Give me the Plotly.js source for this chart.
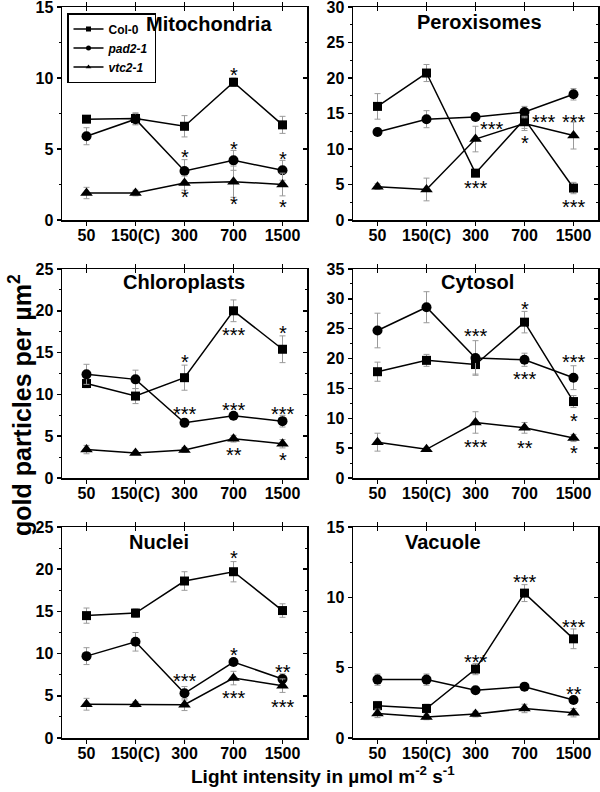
<!DOCTYPE html>
<html>
<head>
<meta charset="utf-8">
<script src="https://cdn.plot.ly/plotly-3.0.1.min.js"></script>
<style>html,body{margin:0;padding:0;background:#fff;}#chart{width:600px;height:792px;}</style>
</head>
<body>
<div id="chart"></div>
<script>
// ---------- DATA ----------
const categories = ['50', '150(C)', '300', '700', '1500'];
const panelNames = ['Mitochondria', 'Peroxisomes', 'Chloroplasts', 'Cytosol', 'Nuclei', 'Vacuole'];
const yMax = [15, 30, 25, 35, 25, 15];

const col0 = [
  [7.1, 7.15, 6.6, 9.7, 6.7],
  [16.0, 20.7, 6.6, 14.2, 4.5],
  [11.3, 9.8, 12.0, 20.0, 15.4],
  [17.8, 19.7, 19.0, 26.1, 12.8],
  [14.5, 14.8, 18.6, 19.7, 15.1],
  [2.3, 2.1, 4.9, 10.3, 7.05]
];
const col0Err = [
  [0.2, 0.4, 0.75, 0.3, 0.6],
  [1.8, 1.2, 0.5, 1.3, 0.8],
  [0.5, 0.9, 1.5, 1.3, 1.6],
  [1.6, 1.0, 1.6, 1.8, 1.0],
  [0.9, 0.5, 1.1, 1.2, 0.8],
  [0.3, 0.3, 0.4, 0.6, 0.7]
];
const pad2 = [
  [5.9, 7.1, 3.45, 4.2, 3.5],
  [12.4, 14.2, 14.5, 15.2, 17.7],
  [12.4, 11.8, 6.6, 7.45, 6.8],
  [24.7, 28.6, 20.1, 19.8, 16.8],
  [9.7, 11.4, 5.3, 9.0, 7.0],
  [4.15, 4.15, 3.4, 3.65, 2.7]
];
const pad2Err = [
  [0.6, 0.4, 0.8, 0.7, 0.7],
  [0.5, 1.2, 0.4, 0.8, 0.8],
  [1.2, 1.1, 0.5, 0.3, 0.7],
  [2.9, 2.6, 2.9, 1.1, 2.0],
  [1.0, 1.1, 0.8, 0.4, 0.6],
  [0.4, 0.4, 0.2, 0.2, 0.2]
];
const vtc2 = [
  [1.9, 1.9, 2.6, 2.7, 2.5],
  [4.7, 4.3, 11.4, 13.6, 11.9],
  [3.4, 3.0, 3.35, 4.7, 4.1],
  [6.0, 4.8, 9.3, 8.4, 6.7],
  [4.0, 4.0, 3.95, 7.1, 6.2],
  [1.75, 1.5, 1.7, 2.1, 1.8]
];
const vtc2Err = [
  [0.4, 0.2, 0.5, 1.1, 0.8],
  [0.4, 1.6, 1.8, 1.0, 1.9],
  [0.5, 0.2, 0.3, 0.4, 0.5],
  [1.5, 0.3, 1.8, 0.9, 0.6],
  [0.7, 0.3, 0.7, 0.8, 0.8],
  [0.3, 0.2, 0.2, 0.3, 0.3]
];

// significance marks: panel index, x position (category index), y value, text
const sigPanel = [0,0,0,0,0,0,0, 1,1,1,1,1,1, 2,2,2,2,2,2,2,2, 3,3,3,3,3,3,3,3, 4,4,4,4,4,4, 5,5,5,5];
const sigX = [2,2,3,3,3,4,4, 2.33,2,3,3.39,4,4, 2,2,3,3,3,4,4,4, 2,2,3,3,3,4,4,4, 3,3,3,2,4,4, 2,3,4,4];
const sigY = [4.8,2.0,10.55,5.35,1.45,4.65,1.3,
  13.5,5.2,11.5,14.5,14.5,2.5,
  14.5,8.2,17.7,8.75,3.3,17.9,8.2,2.7,
  24.6,6.1,29.1,17.4,5.85,20.2,10.3,5.1,
  21.9,10.4,5.3,7.3,8.4,4.3,
  5.76,11.45,8.25,3.5];
const sigText = ['*','*','*','*','*','*','*',
  '***','***','*','***','***','***',
  '*','***','***','***','**','*','***','*',
  '***','***','*','***','**','***','*','*',
  '*','*','***','***','**','***',
  '***','***','***','**'];

const seriesNames = ['Col-0', 'pad2-1', 'vtc2-1'];
const legendLabels = ['<b>Col-0</b>', '<b><i>pad2-1</i></b>', '<b><i>vtc2-1</i></b>'];

// ---------- LAYOUT GEOMETRY (pixels) ----------
const W = 600, H = 792;
const colPx = [[62, 307], [353, 598]];
const rowPx = [[7, 220], [269, 478], [527, 738]];
const titlePx = [[209, 24], [479, 22], [184, 282], [477, 282], [159, 542], [443, 542]];
const FONT = 'Arial, "Liberation Sans", Helvetica, sans-serif';

const xIdx = categories.map((c, i) => i);
const seriesData = [col0, pad2, vtc2];
const seriesErr = [col0Err, pad2Err, vtc2Err];
const symbols = ['square', 'circle', 'triangle-up'];
const sizes = [9, 10, 11];

const traces = [];
const layout = {
  width: W, height: H,
  margin: {l: 0, r: 0, t: 0, b: 0},
  paper_bgcolor: '#fff', plot_bgcolor: 'rgba(0,0,0,0)',
  font: {family: FONT, color: '#000'},
  showlegend: true,
  legend: {
    x: 67 / W, y: 1 - 13 / H, xanchor: 'left', yanchor: 'top',
    bgcolor: '#fff', bordercolor: '#000', borderwidth: 1.5,
    font: {family: FONT, size: 12, color: '#000'},
    tracegroupgap: 0, itemwidth: 30
  },
  annotations: []
};

for (let p = 0; p < 6; p++) {
  const n = p + 1;
  const col = p % 2, row = Math.floor(p / 2);
  const xd = [colPx[col][0] / W, colPx[col][1] / W];
  const yd = [1 - rowPx[row][1] / H, 1 - rowPx[row][0] / H];
  const xa = 'x' + n, ya = 'y' + n;
  const xaTop = 'x' + (n + 6), yaRight = 'y' + (n + 6);

  for (let s = 0; s < 3; s++) {
    traces.push({
      type: 'scatter', mode: 'lines+markers',
      x: xIdx, y: seriesData[s][p],
      xaxis: xa, yaxis: ya,
      name: seriesNames[s], showlegend: false,
      line: {color: '#000', width: 1.5},
      marker: {symbol: symbols[s], size: sizes[s], color: '#000'},
      error_y: {type: 'data', array: seriesErr[s][p], visible: true, color: '#9a9a9a', thickness: 1, width: 3},
      cliponaxis: false
    });
  }
  // empty traces to register the overlay axes (top ticks inside, right ticks inside)
  traces.push({type: 'scatter', x: [], y: [], xaxis: xaTop, yaxis: ya, showlegend: false, hoverinfo: 'skip'});
  traces.push({type: 'scatter', x: [], y: [], xaxis: xa, yaxis: yaRight, showlegend: false, hoverinfo: 'skip'});

  const xRange = [-0.5, categories.length - 0.5];
  layout['xaxis' + n] = {
    domain: xd, anchor: ya, range: xRange, fixedrange: true,
    tickmode: 'array', tickvals: xIdx, ticktext: categories,
    ticks: 'outside', ticklen: 4, tickwidth: 1.5, tickcolor: '#000',
    ticklabelstandoff: -4, ticklabeloverflow: 'allow',
    showline: true, linecolor: '#000', linewidth: 1.5, mirror: 'ticks',
    showgrid: false, zeroline: false,
    tickfont: {family: FONT, size: 16, color: '#000', weight: 'bold'}
  };
  layout['yaxis' + n] = {
    domain: yd, anchor: xa, range: [0, yMax[p]], fixedrange: true,
    tickmode: 'linear', tick0: 0, dtick: 5,
    ticks: 'outside', ticklen: 4, tickwidth: 1.5, tickcolor: '#000',
    ticklabeloverflow: 'allow',
    minor: {ticks: 'outside', ticklen: 2, tickwidth: 1, tickcolor: '#000', dtick: 2.5, tick0: 0},
    showline: true, linecolor: '#000', linewidth: 1.5, mirror: true,
    showgrid: false, zeroline: false,
    tickfont: {family: FONT, size: 16, color: '#000', weight: 'bold'}
  };
  layout['xaxis' + (n + 6)] = {
    overlaying: xa, side: 'top', anchor: ya, range: xRange, fixedrange: true,
    tickmode: 'array', tickvals: xIdx, showticklabels: false,
    ticks: 'inside', ticklen: 4, tickwidth: 1.5, tickcolor: '#000',
    showline: false, showgrid: false, zeroline: false
  };
  layout['yaxis' + (n + 6)] = {
    overlaying: ya, side: 'right', anchor: xa, range: [0, yMax[p]], fixedrange: true,
    tickmode: 'linear', tick0: 0, dtick: 5, showticklabels: false,
    ticks: 'inside', ticklen: 4, tickwidth: 1.5, tickcolor: '#000',
    minor: {ticks: 'inside', ticklen: 2, tickwidth: 1, tickcolor: '#000', dtick: 2.5, tick0: 0},
    showline: false, showgrid: false, zeroline: false
  };

  // panel title
  layout.annotations.push({
    xref: 'paper', yref: 'paper', x: titlePx[p][0] / W, y: 1 - titlePx[p][1] / H,
    xanchor: 'center', yanchor: 'middle', showarrow: false,
    text: '<b>' + panelNames[p] + '</b>',
    font: {family: FONT, size: 20, color: '#000'}
  });
}

// legend entries (no data points; legend symbols only)
for (let s = 0; s < 3; s++) {
  traces.push({
    type: 'scatter', mode: 'lines+markers', x: [null], y: [null],
    xaxis: 'x1', yaxis: 'y1', name: legendLabels[s], showlegend: true,
    line: {color: '#000', width: 1.5},
    marker: {symbol: symbols[s], size: 5, color: '#000'}
  });
}

// significance asterisks
for (let k = 0; k < sigText.length; k++) {
  const n = sigPanel[k] + 1;
  layout.annotations.push({
    xref: 'x' + n, yref: 'y' + n, x: sigX[k], y: sigY[k],
    xanchor: 'center', yanchor: 'middle', yshift: -5, showarrow: false,
    text: sigText[k], font: {family: FONT, size: 20, color: '#000'}
  });
}

// axis titles
layout.annotations.push({
  xref: 'paper', yref: 'paper', x: 20 / W, y: 1 - 405 / H,
  xanchor: 'center', yanchor: 'middle', showarrow: false, textangle: -90,
  text: '<b>gold particles per µm<sup>2</sup></b>',
  font: {family: FONT, size: 25, color: '#000'}
});
layout.annotations.push({
  xref: 'paper', yref: 'paper', x: 323 / W, y: 1 - 775 / H,
  xanchor: 'center', yanchor: 'middle', showarrow: false,
  text: '<b>Light intensity in µmol m<sup>-2</sup> s<sup>-1</sup></b>',
  font: {family: FONT, size: 19, color: '#000'}
});

Plotly.newPlot('chart', traces, layout, {staticPlot: true, displayModeBar: false});
</script>
</body>
</html>
